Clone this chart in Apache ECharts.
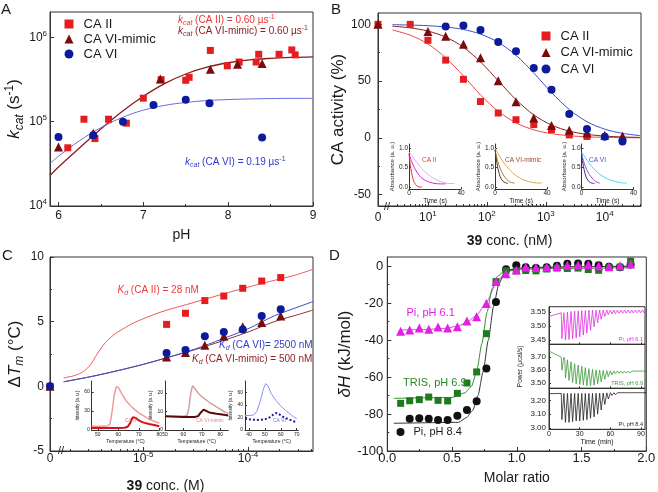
<!DOCTYPE html>
<html>
<head>
<meta charset="utf-8">
<script src="https://cdn.jsdelivr.net/npm/echarts@6.0.0/dist/echarts.min.js"></script>
<style>
html,body{margin:0;padding:0;background:#fff;}
#chart{width:658px;height:492px;}
</style>
</head>
<body>
<div id="chart"></div>
<script>
// ================= DATA =================
// ---- Panel A: kcat vs pH ----
const A_pH_CAII   = [6.11, 6.30, 6.43, 6.59, 6.80, 7.00, 7.21, 7.50, 7.54, 7.79, 7.99, 8.13, 8.33, 8.36, 8.60, 8.75, 8.79];
const A_kcat_CAII = [4.9e4, 1.07e5, 6.3e4, 1.07e5, 9.6e4, 1.9e5, 3.15e5, 3.1e5, 3.36e5, 7.0e5, 4.6e5, 5.1e5, 5.1e5, 6.3e5, 6.3e5, 7.1e5, 6.2e5];
const A_pH_mimic   = [6.0, 6.41, 7.20, 7.79, 8.11, 8.40];
const A_kcat_mimic = [5.0e4, 7.3e4, 3.2e5, 4.2e5, 4.8e5, 4.9e5];
const A_pH_VI   = [6.0, 6.41, 6.76, 7.12, 7.50, 7.78, 8.40];
const A_kcat_VI = [6.6e4, 6.9e4, 1.0e5, 1.58e5, 1.82e5, 1.65e5, 6.5e4];
const A_fit_pH   = [5.9, 6.0, 6.25, 6.5, 6.75, 7.0, 7.25, 7.5, 7.75, 8.0, 8.25, 8.5, 8.75, 9.0];
const A_fit_CAII = [2.3e4, 2.9e4, 4.9e4, 8.2e4, 1.32e5, 2.0e5, 2.83e5, 3.68e5, 4.43e5, 5.0e5, 5.4e5, 5.64e5, 5.79e5, 5.88e5];
const A_fit_VI   = [3.2e4, 3.89e4, 5.96e4, 8.5e4, 1.12e5, 1.37e5, 1.56e5, 1.69e5, 1.78e5, 1.83e5, 1.86e5, 1.88e5, 1.89e5, 1.89e5];
const A_xTicks = [6, 7, 8, 9];
const A_yTicks = [1e4, 1e5, 1e6];

// ---- Panel B: CA activity vs conc (nM) ----
const B_conc  = [0, 5, 10, 20, 40, 78, 156, 312, 625, 1250, 2500, 5000, 10000, 20000];
const B_CAII  = [100, 100, 86, 68.5, 51.6, 32, 21.9, 16, 11.7, 7.3, 2.6, 1.2, null, null];
const B_mimic = [100, null, 93.6, 89.5, 82.5, 70.5, 50.4, 31.8, 17.5, 11, 6.7, 4.4, 2.3, 1.7];
const B_VI    = [null, null, null, 98, 99, 95, 84.5, 76.4, 61.5, 42.3, 21, 7.9, 0.9, -3.2];
const B_fit_conc  = [2.5, 5, 10, 20, 40, 79, 158, 316, 631, 1259, 2512, 5012, 10000, 19953, 39811];
const B_fit_CAII  = [95.0, 90.5, 82.7, 70.6, 54.6, 37.6, 23.2, 13.1, 7.0, 3.7, 1.9, 0.9, 0.5, 0.2, 0.1];
const B_fit_mimic = [98.4, 96.9, 94.1, 88.8, 79.9, 66.6, 50.0, 33.4, 20.1, 11.2, 5.9, 3.1, 1.6, 0.8, 0.4];
const B_fit_VI    = [99.7, 99.4, 98.8, 97.7, 95.5, 91.3, 84.0, 72.5, 56.9, 39.8, 24.9, 14.2, 7.7, 4.0, 2.0];
const B_yTicks = [-50, 0, 50, 100];
const B_yMinor = [-25, 25, 75];
const B_decades = [1, 2, 3, 4];
// B insets: absorbance vs time (s)
const B1_tA = [0, 1, 2, 3, 4, 6, 8, 10],            B1_vA = [0.85, 0.58, 0.37, 0.22, 0.13, 0.04, 0.01, 0.01];
const B1_tB = [0, 2, 4, 6, 8, 10, 13, 16, 20, 24, 28], B1_vB = [0.85, 0.66, 0.51, 0.39, 0.30, 0.23, 0.17, 0.13, 0.10, 0.09, 0.09];
const B1_tC = [0, 3, 6, 9, 12, 15, 18, 22, 26, 30, 35], B1_vC = [0.90, 0.77, 0.63, 0.51, 0.41, 0.32, 0.25, 0.18, 0.13, 0.10, 0.10];
const B2_tA = [0, 1, 2, 3, 4, 6, 8, 10],            B2_vA = [0.95, 0.72, 0.52, 0.38, 0.27, 0.16, 0.12, 0.10];
const B2_tB = [0, 2, 4, 6, 8, 10, 12, 15],          B2_vB = [0.95, 0.68, 0.48, 0.34, 0.24, 0.17, 0.13, 0.11];
const B2_tC = [0, 3, 6, 9, 12, 15, 18, 22, 26, 30, 36], B2_vC = [1.0, 0.82, 0.66, 0.53, 0.42, 0.33, 0.26, 0.19, 0.15, 0.12, 0.11];
const B3_tA = [0, 1, 2, 3, 4, 6, 8, 10],            B3_vA = [0.85, 0.62, 0.45, 0.32, 0.23, 0.14, 0.11, 0.10];
const B3_tB = [0, 2, 4, 6, 8, 10, 12, 14],          B3_vB = [0.85, 0.62, 0.45, 0.33, 0.24, 0.17, 0.13, 0.11];
const B3_tC = [0, 3, 6, 9, 12, 15, 18, 22, 26, 30, 35], B3_vC = [0.90, 0.75, 0.61, 0.49, 0.39, 0.31, 0.25, 0.19, 0.15, 0.12, 0.11];

// ---- Panel C: dTm vs conc (M) ----
const C_conc  = [0, 1.67e-5, 2.53e-5, 3.87e-5, 5.87e-5, 8.9e-5, 1.35e-4, 2.05e-4];
const C_CAII  = [0, 4.79, 5.65, 6.63, 6.98, 7.58, 8.14, 8.41];
const C_VI    = [0, 2.58, 2.81, 3.87, 4.20, 4.39, 5.44, 5.96];
const C_mimic = [0, 2.27, 2.61, 3.17, 3.87, 4.60, 4.93, 5.44];
const C_fitR_conc = [1.74e-6, 2.24e-6, 2.69e-6, 3.16e-6, 3.63e-6, 4.37e-6, 5.37e-6, 6.76e-6, 8.32e-6, 1.48e-5, 3.09e-5, 6.46e-5, 1.35e-4, 2.82e-4, 4.17e-4];
const C_fit_CAII  = [0.65, 0.85, 1.15, 1.7, 2.5, 3.4, 4.05, 4.55, 4.95, 5.75, 6.5, 7.25, 7.95, 8.6, 9.05];
const C_fitB_conc = [1.74e-6, 3.16e-6, 5.62e-6, 1.0e-5, 1.66e-5, 3.16e-5, 5.62e-5, 1.0e-4, 1.78e-4, 3.16e-4, 4.17e-4];
const C_fit_VI    = [0.35, 0.75, 1.2, 1.7, 2.2, 2.9, 3.65, 4.45, 5.45, 6.2, 6.55];
const C_fit_mimic = [0.35, 0.75, 1.2, 1.7, 2.2, 2.85, 3.5, 4.2, 5.0, 5.6, 5.9];
const C_yTicks = [-5, 0, 5, 10];
const C_yMinor = [-2.5, 2.5, 7.5];
const C_decades = [-5, -4];
// C insets: intensity vs temperature
const C1_Tl = [47, 50, 53, 55, 56, 57, 58, 59, 59.5, 60, 62, 64, 66, 68, 70, 72, 74, 76, 78, 80];
const C1_Il = [6, 6, 6, 6.5, 10, 30, 55, 68, 70, 67, 55, 45, 38, 32, 27, 23, 19, 16, 13, 11];
const C1_Td = [47, 55, 60, 63, 64.5, 66, 67, 67.7, 68.5, 70, 72, 75, 78, 80];
const C1_Id = [3, 3, 3, 3.5, 5, 12, 20, 22, 19, 15, 12, 9.5, 7.5, 6];
const C2_Tl = [50, 55, 60, 62, 63, 64, 65, 66, 68, 70, 74, 78, 82, 84.4];
const C2_Il = [7.5, 7.5, 7.5, 8, 12, 20, 24, 23, 20, 18, 15, 12.5, 10, 9];
const C2_Td = [50, 60, 66, 68, 69.5, 71, 72, 74, 78, 82, 84.4];
const C2_Id = [7.5, 7, 7, 7.5, 9.5, 11, 10.5, 9.5, 8.8, 8.2, 7.8];
const C3_Tl = [37.5, 40, 43, 45, 47, 49, 50.5, 52, 54, 57, 60, 63, 66, 68, 70];
const C3_Il = [23, 23, 24, 30, 45, 65, 74, 70, 58, 47, 38, 31, 25, 21, 18];
const C3_Td = [37.5, 40, 45, 50, 53, 55, 57, 59, 62, 65, 68, 70];
const C3_Id = [18, 17, 16, 17, 20, 24, 27, 25, 20, 17, 14, 12.5];

// ---- Panel D: ITC ----
const D_ratio = [0.103, 0.173, 0.247, 0.32, 0.392, 0.466, 0.541, 0.615, 0.69, 0.765, 0.839, 0.917, 0.996, 1.069, 1.148, 1.231, 1.31, 1.39, 1.473, 1.552, 1.632, 1.712, 1.797, 1.879];
const D_Pi61 = [-35.2, -34.5, -33.4, -34.1, -32.9, -33.4, -32.7, -29.6, -27.3, -20.2, -8.3, -4.0, -2.0, -0.4, -0.7, -0.4, -0.2, 0.5, 0.7, 0.9, 0.3, -0.2, 0.2, 1.2];
const D_TRIS = [-74.2, -72.8, -72.2, -70.8, -72.6, -72.9, -68.8, -63.2, -57.2, -36.5, -8.3, -2.5, -2.5, -2.3, -2.5, -1.5, -1.0, -1.2, -1.0, -1.8, -2.2, -0.8, -0.5, 2.8];
const D_Pi84 = [null, -82.5, -82.3, -82.5, -83.2, -83.2, -80.9, -77.8, -73.1, -55.4, -19.3, -1.6, 0.5, -0.5, -1.0, -0.5, 0.3, 1.3, 1.5, 1.3, 0.5, -0.3, -0.5, 1.0];
const D_fitX_61 = [0.1, 0.3, 0.45, 0.55, 0.62, 0.69, 0.765, 0.84, 0.9, 0.95, 1.05, 1.2, 1.5, 1.88];
const D_fit_61  = [-34.5, -34.2, -33.6, -32.3, -30, -26.5, -19.5, -9.5, -4.5, -2.5, -1.2, -0.6, -0.2, 0];
const D_fitX_69 = [0.05, 0.5, 0.6, 0.65, 0.69, 0.73, 0.77, 0.81, 0.85, 0.9, 1.0, 1.3, 1.88];
const D_fit_69  = [-71.5, -71, -68.5, -65, -57, -42, -25, -12, -5.5, -2.8, -1.8, -1.2, -0.8];
const D_fitX_84 = [0.05, 0.55, 0.61, 0.66, 0.7, 0.74, 0.78, 0.82, 0.86, 0.9, 0.95, 1.05, 1.4, 1.88];
const D_fit_84  = [-85, -84.5, -82, -78, -70, -57, -40, -22, -10, -4, -1.8, -0.8, -0.3, 0];
const D_xTicks = [0, 0.5, 1.0, 1.5, 2.0];
const D_xMinor = [0.25, 0.75, 1.25, 1.75];
const D_yTicks = [-100, -80, -60, -40, -20, 0];
const D_yMinor = [-90, -70, -50, -30, -10];
// D inset thermograms (power, ucal/s) per injection
const D_injT = [12, 15.5, 19, 22.5, 26, 29.5, 33, 36.5, 40, 43.5, 47, 50.5, 54, 57.5, 61, 64.5, 68, 71.5, 75, 78.5, 82, 85.5, 89, 92.5];
const D_top_start = 3.535;
const D_top_base = [3.548, 3.551, 3.553, 3.554, 3.555, 3.556, 3.556, 3.557, 3.557, 3.557, 3.558, 3.558, 3.558, 3.558, 3.558, 3.558, 3.558, 3.558, 3.558, 3.558, 3.558, 3.558, 3.558, 3.558];
const D_top_min  = [3.455, 3.450, 3.452, 3.455, 3.458, 3.462, 3.468, 3.475, 3.485, 3.498, 3.512, 3.525, 3.535, 3.541, 3.544, 3.545, 3.546, 3.546, 3.547, 3.547, 3.547, 3.548, 3.548, 3.548];
const D_mid_start = 3.748;
const D_mid_base = [3.700, 3.680, 3.665, 3.650, 3.640, 3.630, 3.620, 3.612, 3.606, 3.602, 3.600, 3.598, 3.596, 3.595, 3.594, 3.594, 3.593, 3.593, 3.593, 3.593, 3.593, 3.593, 3.593, 3.593];
const D_mid_min  = [3.600, 3.540, 3.520, 3.505, 3.495, 3.490, 3.485, 3.480, 3.480, 3.485, 3.495, 3.510, 3.530, 3.550, 3.565, 3.572, 3.575, 3.576, 3.577, 3.577, 3.578, 3.578, 3.578, 3.578];
const D_bot_start = 3.248;
const D_bot_base = [3.250, 3.250, 3.250, 3.250, 3.250, 3.250, 3.250, 3.250, 3.250, 3.251, 3.252, 3.253, 3.254, 3.255, 3.255, 3.255, 3.255, 3.255, 3.255, 3.255, 3.255, 3.255, 3.255, 3.255];
const D_bot_min  = [3.060, 3.040, 3.040, 3.045, 3.050, 3.050, 3.055, 3.060, 3.070, 3.080, 3.100, 3.130, 3.170, 3.210, 3.235, 3.240, 3.242, 3.243, 3.244, 3.245, 3.245, 3.246, 3.246, 3.246];

// ================= BUILD =================
const FF = '"Liberation Sans", Arial, sans-serif';
const INK = '#1a1a1a';
const COL = {red: '#e41e20', dred: '#7a0b0b', blue: '#0c1b9c', mag: '#e21fe4', green: '#1e7a1e', black: '#111111'};

const grids = [], xAxes = [], yAxes = [], series = [], gfx = [];
function addGrid(left, top, width, height, framed) {
  grids.push({left, top, width, height, containLabel: false, outerBoundsMode: 'none',
    show: !!framed, borderColor: '#333', borderWidth: 1, backgroundColor: 'transparent'});
  return grids.length - 1;
}
function addAxis(list, o) {
  const a = {
    type: o.type || 'value', gridIndex: o.grid, min: o.min, max: o.max, position: o.pos,
    axisLine: {show: !o.noLine, onZero: false, lineStyle: {color: '#333', width: 1}},
    axisTick: {show: !!o.ticks, inside: true, length: o.tl || 4, lineStyle: {color: '#333', width: 1}},
    axisLabel: {show: !!o.labels, fontSize: o.fs || 12, color: INK, fontFamily: FF, margin: o.margin == null ? 4 : o.margin},
    splitLine: {show: false}, splitArea: {show: false}, silent: true
  };
  if (o.ticks) a.axisTick.customValues = o.ticks;
  if (o.labels) {
    a.axisLabel.customValues = o.labels;
    if (o.fmt) a.axisLabel.formatter = o.fmt;
    if (o.rich) a.axisLabel.rich = o.rich;
  }
  if (o.logBase) a.logBase = o.logBase;
  if (o.name) {
    a.name = o.name; a.nameLocation = 'middle'; a.nameGap = o.gap; a.nameRotate = o.rot || 0;
    a.nameTextStyle = Object.assign({fontSize: o.nfs || 14, color: INK, fontFamily: FF}, o.nstyle || {});
  }
  list.push(a);
  return list.length - 1;
}
function rich(fs, col) {
  const c = col || INK, lh = Math.round(fs * 1.3), sf = Math.max(4, Math.round(fs * 0.68));
  return {
    n:  {fontSize: fs, fontFamily: FF, color: c, fill: c, lineHeight: lh, verticalAlign: 'middle'},
    i:  {fontSize: fs, fontFamily: FF, fontStyle: 'italic', color: c, fill: c, lineHeight: lh, verticalAlign: 'middle'},
    b:  {fontSize: fs, fontFamily: FF, fontWeight: 'bold', color: c, fill: c, lineHeight: lh, verticalAlign: 'middle'},
    sb: {fontSize: sf, fontFamily: FF, fontStyle: 'italic', color: c, fill: c, lineHeight: Math.round(fs * 0.7), verticalAlign: 'bottom'},
    sp: {fontSize: sf, fontFamily: FF, color: c, fill: c, lineHeight: Math.round(fs * 0.55), verticalAlign: 'top'}
  };
}
const zip = (xs, ys, fx) => xs.map((x, i) => (ys[i] == null ? null : [fx ? fx(x) : x, ys[i]])).filter(Boolean);
function scatter(name, xi, yi, data, symbol, size, color) {
  series.push({type: 'scatter', name, xAxisIndex: xi, yAxisIndex: yi, data, symbol, symbolSize: size,
    itemStyle: {color, opacity: 1}, z: 5, silent: true, clip: false});
}
function line(name, xi, yi, data, color, width, extra) {
  series.push(Object.assign({type: 'line', name, xAxisIndex: xi, yAxisIndex: yi, data, showSymbol: false, symbol: 'none',
    lineStyle: {color, width: width || 1}, itemStyle: {color}, smooth: false, z: 3, silent: true, clip: true}, extra || {}));
}
function text(x, y, str, fs, col, extra) {
  gfx.push(Object.assign({type: 'text', x, y, z: 50, silent: true,
    style: Object.assign({text: str, fill: col || INK, fontSize: fs, fontFamily: FF,
      align: 'left', verticalAlign: 'middle', textAlign: 'left', textVerticalAlign: 'middle', rich: rich(fs, col)}, (extra && extra.style) || {})},
    extra ? {rotation: extra.rotation || 0} : {}));
}
const supFmt = (v) => '{n|10}{sp|' + v + '}';
const minorLog = (lo, hi, n0, n1) => { const r = []; for (let n = n0; n <= n1; n++) for (let k = 2; k <= 9; k++) { const v = n + Math.log10(k); if (v > lo && v < hi) r.push(v); } return r; };

// ---------- Panel A ----------
const gA = addGrid(50, 12, 263, 194, true);
const xA = addAxis(xAxes, {grid: gA, min: 5.9, max: 9, ticks: A_xTicks, labels: A_xTicks, margin: 4, name: 'pH', gap: 22, nfs: 14});
addAxis(xAxes, {grid: gA, min: 5.9, max: 9, pos: 'bottom', noLine: true, ticks: [6.5, 7.5, 8.5], tl: 2});
const yA = addAxis(yAxes, {grid: gA, type: 'log', logBase: 10, min: 1e4, max: 2e6, ticks: A_yTicks, labels: A_yTicks, margin: 3,
  fmt: v => supFmt(Math.round(Math.log10(v))), rich: rich(12),
  name: '{i|k}{sb|cat}{n| (s}{sp|-1}{n|)}', gap: 23, rot: 90, nstyle: {rich: rich(17)}});
line('fitA_CAII', xA, yA, zip(A_fit_pH, A_fit_CAII), '#8b1a1a', 1.3, {smooth: 0.4});
line('fitA_VI', xA, yA, zip(A_fit_pH, A_fit_VI), '#6b6be3', 1, {smooth: 0.4});
scatter('CA II', xA, yA, zip(A_pH_CAII, A_kcat_CAII), 'rect', 7, COL.red);
scatter('CA VI-mimic', xA, yA, zip(A_pH_mimic, A_kcat_mimic), 'triangle', 9, COL.dred);
scatter('CA VI', xA, yA, zip(A_pH_VI, A_kcat_VI), 'circle', 8, COL.blue);

// ---------- Panel B ----------
const X0B = 0.153;
const bx = c => (c === 0 ? X0B : Math.log10(c));
const gB = addGrid(378, 13, 263, 193, true);
const xB = addAxis(xAxes, {grid: gB, min: X0B, max: 4.615, ticks: [X0B].concat(B_decades), labels: [X0B].concat(B_decades), margin: 4,
  fmt: v => (Math.abs(v - X0B) < 1e-6 ? '{n|0}' : supFmt(Math.round(v))), rich: rich(12),
  name: '{b|39}{n| conc. (nM)}', gap: 26, nstyle: {rich: rich(14)}});
addAxis(xAxes, {grid: gB, min: X0B, max: 4.615, pos: 'bottom', noLine: true, ticks: minorLog(0.37, 4.615, 0, 4), tl: 2});
const yB = addAxis(yAxes, {grid: gB, min: -60, max: 110, ticks: B_yTicks, labels: B_yTicks, margin: 7,
  name: 'CA activity (%)', gap: 23, rot: 90, nfs: 17});
addAxis(yAxes, {grid: gB, min: -60, max: 110, pos: 'left', noLine: true, ticks: B_yMinor, tl: 2});
line('fitB_CAII', xB, yB, zip(B_fit_conc, B_fit_CAII, bx), '#e94a4a', 1, {smooth: 0.3});
line('fitB_mimic', xB, yB, zip(B_fit_conc, B_fit_mimic, bx), '#8b1f1f', 1, {smooth: 0.3});
line('fitB_VI', xB, yB, zip(B_fit_conc, B_fit_VI, bx), '#3b50d2', 1, {smooth: 0.3});
scatter('CA II', xB, yB, zip(B_conc, B_CAII, bx), 'rect', 7, COL.red);
scatter('CA VI-mimic', xB, yB, zip(B_conc, B_mimic, bx), 'triangle', 9, COL.dred);
scatter('CA VI', xB, yB, zip(B_conc, B_VI, bx), 'circle', 8, COL.blue);

// B insets
function bInset(left, sets, title, tcol, tx) {
  const g = addGrid(left, 144, 52, 45, false);
  const xi = addAxis(xAxes, {grid: g, min: 0, max: 40, ticks: [0, 40], labels: [0, 40], fs: 6.5, margin: 1, tl: 2,
    name: 'Time (s)', gap: 2, nfs: 6.5});
  const yi = addAxis(yAxes, {grid: g, min: -0.04, max: 1.1, ticks: [0, 0.5, 1.0], labels: [0, 0.5, 1.0], fs: 6.5, margin: 1, tl: 2,
    fmt: v => v.toFixed(1), name: 'Absorbance (a. u.)', gap: 11, rot: 90, nfs: 6});
  sets.forEach(s => line('inset', xi, yi, zip(s[0], s[1]), s[2], 1, {smooth: 0.3}));
  text(tx, 160.5, title, 6.5, tcol);
}
bInset(409, [[B1_tC, B1_vC, '#eaa6ea'], [B1_tB, B1_vB, '#d62ad6'], [B1_tA, B1_vA, '#e5333a']], 'CA II', '#e23a3a', 422);
bInset(495, [[B2_tC, B2_vC, '#e3a548'], [B2_tB, B2_vB, '#a08040'], [B2_tA, B2_vA, '#5a3a1a']], 'CA VI-mimic', '#a2452a', 505);
bInset(581.5, [[B3_tC, B3_vC, '#4cd6ec'], [B3_tB, B3_vB, '#8a48c8'], [B3_tA, B3_vA, '#4a1e9a']], 'CA VI', '#4b4fd0', 589);

// ---------- Panel C ----------
const X0C = -5.89;
const cx = c => (c === 0 ? X0C : Math.log10(c));
const gC = addGrid(50, 257, 263, 194, true);
const xC = addAxis(xAxes, {grid: gC, min: X0C, max: -3.38, ticks: [X0C].concat(C_decades), labels: [X0C].concat(C_decades), margin: 0,
  fmt: v => (Math.abs(v - X0C) < 1e-6 ? '{n|0}' : supFmt(Math.round(v))), rich: rich(12),
  name: '{b|39}{n| conc. (M)}', gap: 26, nstyle: {rich: rich(14), padding: [0, 32, 0, 0]}});
addAxis(xAxes, {grid: gC, min: X0C, max: -3.38, pos: 'bottom', noLine: true, ticks: minorLog(-5.76, -3.38, -6, -4), tl: 2});
const yC = addAxis(yAxes, {grid: gC, min: -5, max: 10, ticks: C_yTicks, labels: C_yTicks, margin: 6,
  name: '{n|Δ}{i|T}{sb|m}{n| (°C)}', gap: 24, rot: 90, nstyle: {rich: rich(17)}});
addAxis(yAxes, {grid: gC, min: -5, max: 10, pos: 'left', noLine: true, ticks: C_yMinor, tl: 2});
line('fitC_CAII', xC, yC, zip(C_fitR_conc, C_fit_CAII, cx), '#ef5a5a', 1, {smooth: 0.3});
line('fitC_mimic', xC, yC, zip(C_fitB_conc, C_fit_mimic, cx), '#8b3434', 1, {smooth: 0.3});
line('fitC_VI', xC, yC, zip(C_fitB_conc, C_fit_VI, cx), '#3a4fd0', 1, {smooth: 0.3});
scatter('CA II', xC, yC, zip(C_conc, C_CAII, cx), 'rect', 7, COL.red);
scatter('CA VI-mimic', xC, yC, zip(C_conc, C_mimic, cx), 'triangle', 9, COL.dred);
scatter('CA VI', xC, yC, zip(C_conc, C_VI, cx), 'circle', 8, COL.blue);

// C insets
function cInset(left, width, xmin, xmax, xt, ymax, yt, sets, title, tcol, tx) {
  const g = addGrid(left, 381, width, 49, false);
  const xi = addAxis(xAxes, {grid: g, min: xmin, max: xmax, ticks: xt, labels: xt, fs: 5, margin: 2, tl: 2,
    name: 'Temperature (°C)', gap: 9, nfs: 5});
  const yi = addAxis(yAxes, {grid: g, min: 0, max: ymax, ticks: yt, labels: yt, fs: 5, margin: 2, tl: 2,
    name: 'Intensity (a. u.)', gap: 8, rot: 90, nfs: 4.5});
  sets.forEach(s => line('inset', xi, yi, zip(s[0], s[1]), s[2], s[3], s[4] ? {lineStyle: {color: s[2], width: s[3], type: 'dotted'}} : {}));
  text(tx, 420.5, title, 5, tcol);
}
cInset(91.7, 67.6, 47, 80, [50, 60, 70, 80], 77, [0, 30, 60],
  [[C1_Tl, C1_Il, '#f29a9a', 1.5], [C1_Td, C1_Id, '#d0141a', 2]], 'CA II', '#ef6a6a', 125);
cInset(165, 63.3, 50, 84.4, [50, 60, 70, 80], 26.5, [0, 10, 20],
  [[C2_Tl, C2_Il, '#d3a0a0', 1.5], [C2_Td, C2_Id, '#5a0a0a', 2]], 'CA VI-mimic', '#d98a8a', 196);
cInset(245, 53.3, 37.5, 71, [40, 50, 60, 70], 78, [0, 20, 40, 60],
  [[C3_Tl, C3_Il, '#8f8ff2', 1], [C3_Td, C3_Id, '#1a1aa8', 2, true]], 'CA VI', '#6a6ae0', 273);

// ---------- Panel D ----------
const gD = addGrid(387.3, 257, 259, 194, true);
const xD = addAxis(xAxes, {grid: gD, min: 0, max: 2, ticks: D_xTicks, labels: D_xTicks, margin: 1, fs: 13,
  fmt: v => v.toFixed(1), name: 'Molar ratio', gap: 20, nfs: 14});
addAxis(xAxes, {grid: gD, min: 0, max: 2, pos: 'bottom', noLine: true, ticks: D_xMinor, tl: 2});
const yD = addAxis(yAxes, {grid: gD, min: -100, max: 5, ticks: D_yTicks, labels: D_yTicks, margin: 4, fs: 13,
  name: '{i|δH}{n| (kJ/mol)}', gap: 31, rot: 90, nstyle: {rich: rich(17)}});
addAxis(yAxes, {grid: gD, min: -100, max: 5, pos: 'left', noLine: true, ticks: D_yMinor, tl: 2});
line('fitD_61', xD, yD, zip(D_fitX_61, D_fit_61), '#e043e0', 1, {smooth: 0.2, smoothMonotone: 'x'});
line('fitD_69', xD, yD, zip(D_fitX_69, D_fit_69), '#2f8f2f', 1, {smooth: 0.2, smoothMonotone: 'x'});
line('fitD_84', xD, yD, zip(D_fitX_84, D_fit_84), '#333333', 1, {smooth: 0.2, smoothMonotone: 'x'});
scatter('Pi, pH 8.4', xD, yD, zip(D_ratio, D_Pi84), 'circle', 8, COL.black);
scatter('TRIS, pH 6.9', xD, yD, zip(D_ratio, D_TRIS), 'rect', 7, COL.green);
scatter('Pi, pH 6.1', xD, yD, zip(D_ratio, D_Pi61), 'triangle', 9, COL.mag);

// D inset thermograms
function thermo(start, base, mins) {
  const pts = [[0, start]];
  D_injT.forEach((t, i) => { pts.push([t, base[i]], [t + 0.6, mins[i]], [t + 2.6, base[i]]); });
  pts.push([94, base[base.length - 1]]);
  return pts;
}
function dInset(top, height, ymin, ymax, yt, data, col, showX, yname, label) {
  const g = addGrid(549, top, 96, height, true);
  const xi = addAxis(xAxes, {grid: g, min: 0, max: 94, ticks: [0, 30, 60, 90], labels: showX ? [0, 30, 60, 90] : null, fs: 7, margin: 1, tl: 2,
    name: showX ? 'Time (min)' : null, gap: 8, nfs: 7});
  const yi = addAxis(yAxes, {grid: g, min: ymin, max: ymax, ticks: yt, labels: yt, fs: 8, margin: 3, tl: 2,
    fmt: v => v.toFixed(2), name: yname, gap: 25, rot: 90, nfs: 6.5});
  line('thermo', xi, yi, data, col, 0.8);
  text(643, top + height - 5, label, 5.5, col, {style: {align: 'right', textAlign: 'right'}});
}
dInset(306.7, 37.6, 3.435, 3.57, [3.45, 3.50, 3.55], thermo(D_top_start, D_top_base, D_top_min), '#e030e0', false, null, 'Pi, pH 6.1');
dInset(344.3, 44, 3.46, 3.80, [3.50, 3.60, 3.70], thermo(D_mid_start, D_mid_base, D_mid_min), '#3a9a3a', false, 'Power (μcal/s)', 'TRIS, pH 6.9');
dInset(388.3, 41, 2.99, 3.287, [3.00, 3.10, 3.20], thermo(D_bot_start, D_bot_base, D_bot_min), '#222222', true, null, 'Pi, pH 8.4');

// ---------- annotations ----------
text(1, 10, 'A', 15); text(331, 10, 'B', 15); text(2, 256, 'C', 15); text(329, 256, 'D', 15);
text(178, 20, '{i|k}{sb|cat}{n| (CA II) = 0.60 µs}{sp|-1}', 10, '#ee3333');
text(178, 31.5, '{i|k}{sb|cat}{n| (CA VI-mimic) = 0.60 µs}{sp|-1}', 10, '#8b1a1a');
text(185, 162, '{i|k}{sb|cat}{n| (CA VI) = 0.19 µs}{sp|-1}', 10, '#3535d0');
text(117.5, 290.5, '{i|K}{sb|d}{n| (CA II) = 28 nM}', 10, '#ee3a3a');
text(219, 345.5, '{i|K}{sb|d}{n| (CA VI)= 2500 nM}', 10, '#2f3fc8');
text(192, 359.5, '{i|K}{sb|d}{n| (CA VI-mimic) = 500 nM}', 10, '#8b1a1a');
text(406.5, 313, 'Pi, pH 6.1', 11, '#e020e0');
text(403, 383.3, 'TRIS, pH 6.9', 11, '#2a8a2a');
text(384, 207, '//', 11);
text(58, 451, '//', 11);

const legendBase = {orient: 'vertical', selectedMode: false, itemWidth: 9, itemHeight: 9,
  textStyle: {fontSize: 13, lineHeight: 14, color: INK, fontFamily: FF, padding: [0, 0, 0, 5]}};
const option = {
  animation: false,
  backgroundColor: '#ffffff',
  textStyle: {fontFamily: FF},
  grid: grids, xAxis: xAxes, yAxis: yAxes, series,
  legend: [
    Object.assign({}, legendBase, {data: ['CA II', 'CA VI-mimic', 'CA VI'], left: 64.5, top: 17, itemGap: 1, padding: 0}),
    Object.assign({}, legendBase, {data: ['CA II', 'CA VI-mimic', 'CA VI'], left: 541.5, top: 29, itemGap: 2.5, padding: 0}),
    Object.assign({}, legendBase, {data: ['Pi, pH 8.4'], left: 396.5, top: 426, itemWidth: 8, itemHeight: 8, padding: 0,
      textStyle: {fontSize: 11, lineHeight: 12, color: INK, fontFamily: FF, padding: [0, 0, 0, 4]}})
  ],
  graphic: {elements: gfx}
};
const chart = echarts.init(document.getElementById('chart'), null, {renderer: 'canvas'});
chart.setOption(option);
</script>
</body>
</html>
